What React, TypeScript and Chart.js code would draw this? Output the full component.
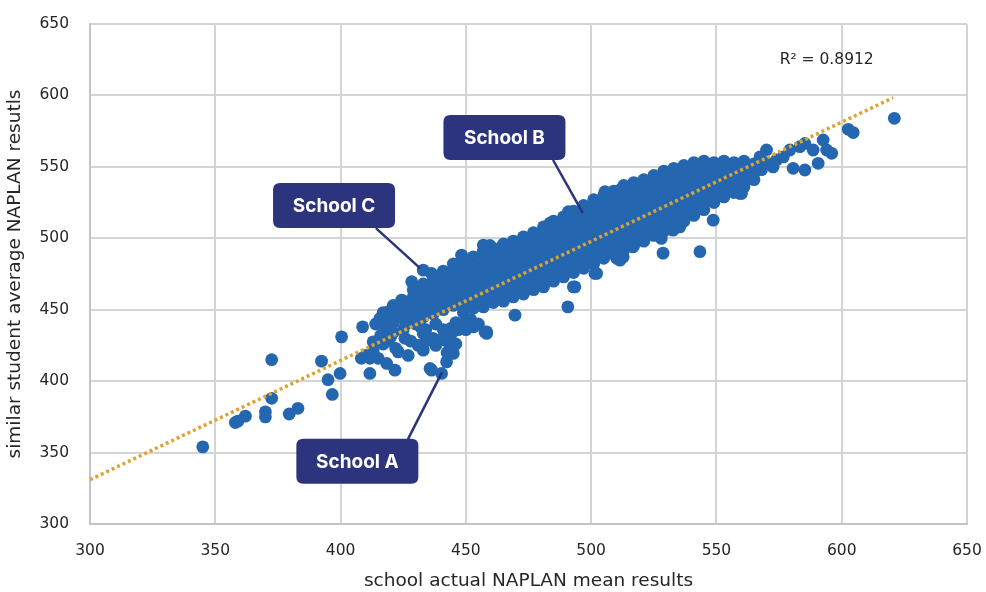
import React, { useEffect, useRef } from 'react';
import { Chart, registerables } from 'chart.js';

Chart.register(...registerables);

// ---------- data ----------
const axisMin = 300;
const axisMax = 650;
const axisStep = 50;
const xTitle = 'school actual NAPLAN mean results';
const yTitle = 'similar student average NAPLAN resutls';
const rSquaredText = 'R\u00B2 = 0.8912';
const rSquaredPos = [594, 625];

// trend line end points
const trendX = [300, 620.5];
const trendY = [331, 598.4];

// dense band of schools: one column per x value, list of y values
const bandX = [417, 421, 425, 429, 433, 437, 441, 445, 449, 453, 457, 461, 465, 469, 473, 477, 481, 485, 489,
  493, 497, 501, 505, 509, 513, 517, 521, 525, 529, 533, 537, 541, 545, 549, 553, 557, 561, 565];
const bandY = [
  [443, 448],
  [441, 447, 453],
  [444, 450, 456],
  [447, 453, 459, 464],
  [445, 450, 456, 462, 468],
  [447, 453, 459, 465, 471],
  [450, 456, 462, 468, 474, 477],
  [453, 459, 465, 471, 477, 482],
  [448, 454, 460, 466, 472, 478, 484],
  [451, 457, 463, 469, 475, 481, 487],
  [452, 458, 464, 470, 476, 482, 488, 491],
  [455, 461, 467, 473, 479, 485, 491, 493],
  [456, 462, 468, 474, 480, 486, 492, 496],
  [459, 465, 471, 477, 483, 489, 495, 498],
  [461, 467, 473, 479, 485, 491, 497, 501],
  [464, 470, 476, 482, 488, 494, 500, 504],
  [466, 472, 478, 484, 490, 496, 502, 508],
  [470, 476, 482, 488, 494, 500, 506, 512],
  [473, 479, 485, 491, 497, 503, 509, 515],
  [476, 482, 488, 494, 500, 506, 512, 518, 519],
  [479, 485, 491, 497, 503, 509, 515, 521, 523],
  [482, 488, 494, 500, 506, 512, 518, 524, 527],
  [486, 491, 497, 503, 509, 515, 521, 527, 530],
  [489, 494, 500, 506, 512, 518, 524, 530, 533],
  [492, 497, 503, 509, 515, 521, 527, 533, 537],
  [495, 500, 506, 512, 518, 524, 530, 536, 539],
  [498, 503, 509, 515, 521, 527, 533, 539, 541],
  [502, 506, 512, 518, 524, 530, 536, 542, 544],
  [505, 509, 515, 521, 527, 533, 539, 545, 547],
  [509, 512, 518, 524, 530, 536, 542, 548, 549],
  [512, 515, 521, 527, 533, 539, 545, 551],
  [516, 518, 524, 530, 536, 542, 548, 553],
  [520, 526, 532, 538, 544, 550, 554],
  [525, 529, 535, 541, 547, 553],
  [529, 532, 538, 544, 550, 554],
  [532, 535, 541, 547, 553],
  [536, 538, 544, 550, 554],
  [541, 547, 552],
];

// scattered low-end schools
const lowSchools: [number, number][] = [
  [345, 354], [358, 371], [359, 372], [362, 375.5], [372.5, 415], [372.5, 388], [370, 378.5], [370, 375],
  [379.5, 377], [383, 381], [392.4, 414], [395, 401], [396.7, 390.7], [399.8, 405.4], [400.4, 431],
  [408.8, 438], [411.7, 405.4], [408.3, 416], [411.7, 416], [413, 427.5], [418.4, 412.4], [421.7, 407.7],
  [415.7, 443.9], [419, 447.4], [423, 420.5], [425.7, 430], [436.3, 407.7], [440.3, 405.4], [442.3, 413.5],
  [445, 419.4], [433, 421.7], [433, 433.4], [436.9, 430], [458.3, 434.5], [444.3, 433.6], [419, 448.5],
  [416.4, 443.9], [424.4, 456.7], [428.4, 469.6], [433, 477.7], [436.3, 475.4], [448.3, 488.2],
  [457.6, 434.5], [435.7, 408.9], [442.5, 420], [443, 427], [444, 437], [431, 425], [432, 438],
  [422, 423], [425, 436], [427, 418], [410, 418], [413, 421], [415, 416], [416, 432], [419, 428],
  [421, 434], [417, 426], [414, 440], [418, 436], [421, 442], [424, 447], [427, 452], [429, 446],
  [426, 440], [420, 431], [428, 428], [430, 440], [434, 436], [438, 440], [441, 436], [446, 441],
  [447, 436], [440, 429], [438, 425], [434, 428], [446, 426], [449, 440], [452, 443], [455, 440],
  [450, 436], [453, 438],
];

// scattered mid-range schools on the band edges
const midSchools: [number, number][] = [
  [528.7, 489.6], [543.4, 490.6], [548.7, 512.7], [559.4, 531.4], [535.4, 508], [532.7, 505.7],
  [528, 499.9], [512.8, 487], [511.5, 484.7], [501.5, 475.4], [493.5, 466], [490.7, 452], [492.9, 466],
  [502.2, 475.4], [510.2, 486], [516.7, 494], [469.6, 446.2], [458.3, 433.4], [483.6, 510.6],
  [490.9, 518.6], [505.5, 532.6], [511.5, 533.8], [468.8, 497.6], [459.6, 495], [457, 495.2],
  [470.3, 496.4],
];

// scattered high-end schools
const highSchools: [number, number][] = [
  [621, 584], [602.6, 576.3], [604.6, 574], [592.6, 568.8], [594, 561.8], [596, 559.5], [590.6, 552.5],
  [585.3, 547.8], [580.6, 549], [588.6, 561.8], [583.3, 564.1], [585.3, 566.4], [579.3, 561.8],
  [570, 561.8], [570, 552.5], [574, 554.8], [576.7, 557], [567.4, 557], [564.7, 544.3], [560, 531.4],
  [572.6, 550], [568, 548], [566, 552],
];

// callouts
const calloutLabels = ['School A', 'School B', 'School C'];
const calloutCenters = [[406.7, 344], [465.4, 570.5], [397.4, 522.9]];
const calloutStarts = [[426.9, 359.4], [484.8, 554.8], [414.1, 507.1]];
const calloutEnds = [[440.5, 406.3], [496.7, 517.6], [431.7, 479.1]];

// ---------- styles ----------
const POINT_COLOR = '#2467b0';
const TREND_COLOR = '#dca232';
const NAVY = '#2b347c';
const TEXT_COLOR = '#262626';
const GRID_COLOR = '#d4d4d4';

const calloutPlugin = {
  id: 'callouts',
  afterDatasetsDraw(chart: any) {
    const { ctx, scales } = chart;
    const xs = scales.x;
    const ys = scales.y;
    ctx.save();
    // R squared text
    ctx.fillStyle = TEXT_COLOR;
    ctx.font = '15.5px "DejaVu Sans"';
    ctx.textAlign = 'center';
    ctx.textBaseline = 'middle';
    ctx.fillText(rSquaredText, xs.getPixelForValue(rSquaredPos[0]), ys.getPixelForValue(rSquaredPos[1]));

    // leader lines
    ctx.strokeStyle = NAVY;
    ctx.lineWidth = 2.5;
    for (let i = 0; i < calloutLabels.length; i++) {
      ctx.beginPath();
      ctx.moveTo(xs.getPixelForValue(calloutStarts[i][0]), ys.getPixelForValue(calloutStarts[i][1]));
      ctx.lineTo(xs.getPixelForValue(calloutEnds[i][0]), ys.getPixelForValue(calloutEnds[i][1]));
      ctx.stroke();
    }
    // boxes
    const w = 122;
    const h = 45;
    const r = 7;
    for (let i = 0; i < calloutLabels.length; i++) {
      const cx = xs.getPixelForValue(calloutCenters[i][0]);
      const cy = ys.getPixelForValue(calloutCenters[i][1]);
      const x0 = cx - w / 2;
      const y0 = cy - h / 2;
      ctx.beginPath();
      ctx.moveTo(x0 + r, y0);
      ctx.lineTo(x0 + w - r, y0);
      ctx.quadraticCurveTo(x0 + w, y0, x0 + w, y0 + r);
      ctx.lineTo(x0 + w, y0 + h - r);
      ctx.quadraticCurveTo(x0 + w, y0 + h, x0 + w - r, y0 + h);
      ctx.lineTo(x0 + r, y0 + h);
      ctx.quadraticCurveTo(x0, y0 + h, x0, y0 + h - r);
      ctx.lineTo(x0, y0 + r);
      ctx.quadraticCurveTo(x0, y0, x0 + r, y0);
      ctx.closePath();
      ctx.fillStyle = NAVY;
      ctx.fill();
      ctx.fillStyle = '#ffffff';
      ctx.font = 'bold 19px Inter';
      ctx.textAlign = 'center';
      ctx.textBaseline = 'middle';
      ctx.fillText(calloutLabels[i], cx, cy + 1);
    }
    ctx.restore();
  },
};

export default function App() {
  const canvasRef = useRef<HTMLCanvasElement | null>(null);

  useEffect(() => {
    if (!canvasRef.current) return;
    const toPts = (arr: [number, number][]) => arr.map(([x, y]) => ({ x, y }));
    const bandPts = bandX.flatMap((x, i) => bandY[i].map((y) => ({ x, y })));
    const schools = [...bandPts, ...toPts(lowSchools), ...toPts(midSchools), ...toPts(highSchools)];

    const chart = new Chart(canvasRef.current, {
      type: 'scatter',
      data: {
        datasets: [
          {
            type: 'line',
            label: 'trend',
            data: trendX.map((x, i) => ({ x, y: trendY[i] })),
            borderColor: TREND_COLOR,
            borderWidth: 3.5,
            borderDash: [3, 3],
            borderCapStyle: 'butt',
            pointRadius: 0,
            fill: false,
            order: 0,
          } as any,
          {
            label: 'schools',
            data: schools,
            backgroundColor: POINT_COLOR,
            borderWidth: 0,
            pointRadius: 6.4,
            pointHoverRadius: 6.4,
            order: 1,
          },
        ],
      },
      options: {
        responsive: false,
        animation: false,
        layout: { padding: { top: 24, right: 19, left: 0, bottom: 0 } },
        plugins: {
          legend: { display: false },
          tooltip: { enabled: false },
          title: { display: false },
        },
        scales: {
          x: {
            type: 'linear',
            min: axisMin,
            max: axisMax,
            ticks: {
              stepSize: axisStep,
              color: TEXT_COLOR,
              font: { family: '"DejaVu Sans"', size: 15.5 },
              padding: 18,
            },
            grid: { color: GRID_COLOR, lineWidth: 2, drawTicks: false },
            border: { color: '#c4c4c4', width: 2 },
            title: {
              display: true,
              text: xTitle,
              color: TEXT_COLOR,
              font: { family: '"DejaVu Sans"', size: 18.5 },
              padding: { top: 0, bottom: 0 },
            },
            afterFit: (scale: any) => {
              scale.height = 68;
              scale.paddingLeft = 0;
              scale.paddingRight = 0;
            },
          },
          y: {
            type: 'linear',
            min: axisMin,
            max: axisMax,
            ticks: {
              stepSize: axisStep,
              color: TEXT_COLOR,
              font: { family: '"DejaVu Sans"', size: 15.5 },
              padding: 21,
            },
            grid: { color: GRID_COLOR, lineWidth: 2, drawTicks: false },
            border: { color: '#c4c4c4', width: 2 },
            title: {
              display: true,
              text: yTitle,
              color: TEXT_COLOR,
              font: { family: '"DejaVu Sans"', size: 18.5 },
              padding: { top: 4, bottom: 0 },
            },
            afterFit: (scale: any) => {
              scale.width = 90;
              scale.paddingTop = 0;
              scale.paddingBottom = 0;
            },
          },
        },
      },
      plugins: [calloutPlugin],
    });
    return () => chart.destroy();
  }, []);

  return (
    <div style={{ position: 'absolute', left: 0, top: 0, width: 986, height: 592, background: '#ffffff' }}>
      <canvas ref={canvasRef} width={986} height={592} style={{ display: 'block' }} />
    </div>
  );
}
